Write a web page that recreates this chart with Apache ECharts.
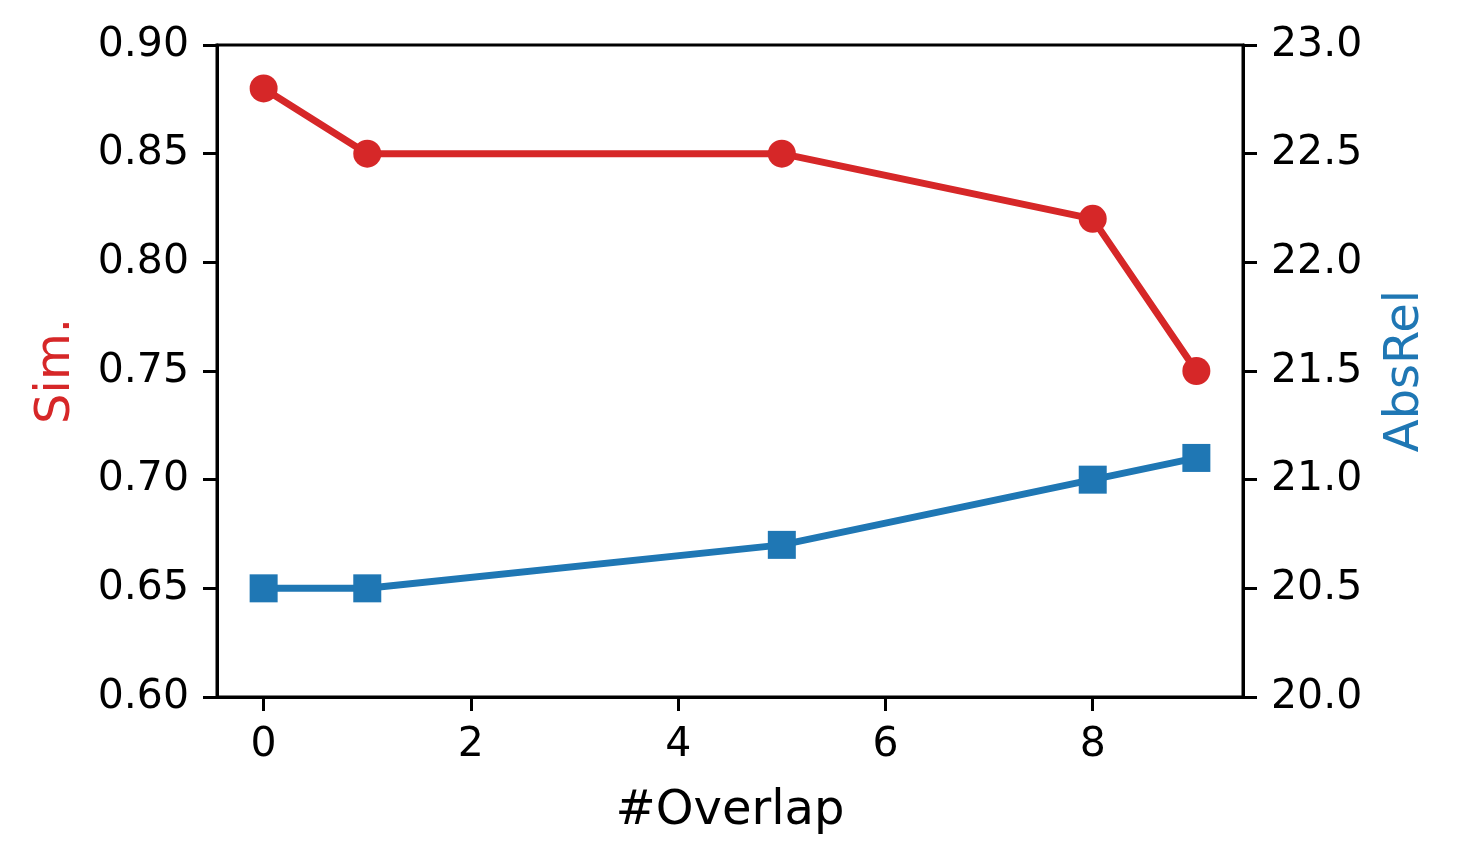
<!DOCTYPE html>
<html><head><meta charset="utf-8">
<script src="https://cdn.jsdelivr.net/npm/echarts@6/dist/echarts.min.js"></script>
<style>html,body{margin:0;padding:0;background:#fff}#c{width:1459px;height:863px}</style>
</head><body><div id="c"></div>
<script>
const overlap = [0, 1, 5, 8, 9];
const sim = [0.88, 0.85, 0.85, 0.82, 0.75];
const absRel = [20.5, 20.5, 20.7, 21.0, 21.1];
const xTicks = [0, 2, 4, 6, 8];
const FONT = 'DejaVu Sans';
const RED = '#d62728', BLUE = '#1f77b4';
const chart = echarts.init(document.getElementById('c'), null, {renderer: 'canvas'});
const axisLine = {show: true, onZero: false, lineStyle: {color: '#000', width: 3}};
const axisTick = {show: true, length: 14, lineStyle: {color: '#000', width: 3}};
chart.setOption({
  animation: false,
  grid: {left: 217, right: 216, top: 45, bottom: 166, containLabel: false,
         show: true, borderColor: '#000', borderWidth: 3, backgroundColor: 'transparent'},
  xAxis: {
    type: 'value', min: -0.45, max: 9.45,
    name: '#Overlap', nameLocation: 'middle', nameGap: 91,
    nameTextStyle: {fontFamily: FONT, fontSize: 48, color: '#000'},
    axisLine: axisLine,
    axisTick: Object.assign({}, axisTick, {customValues: xTicks}),
    axisLabel: {customValues: xTicks, fontFamily: FONT, fontSize: 41, color: '#000', margin: 28},
    splitLine: {show: false}
  },
  yAxis: [{
    type: 'value', min: 0.6, max: 0.9, interval: 0.05, position: 'left',
    name: 'Sim.', nameLocation: 'middle', nameGap: 136, nameRotate: 90,
    nameTextStyle: {fontFamily: FONT, fontSize: 48, color: RED},
    axisLine: axisLine, axisTick: axisTick,
    axisLabel: {fontFamily: FONT, fontSize: 41, color: '#000', margin: 28, formatter: v => v.toFixed(2)},
    splitLine: {show: false}
  }, {
    type: 'value', min: 20, max: 23, interval: 0.5, position: 'right',
    name: 'AbsRel', nameLocation: 'middle', nameGap: 139, nameRotate: 90,
    nameTextStyle: {fontFamily: FONT, fontSize: 48, color: BLUE},
    axisLine: axisLine, axisTick: axisTick,
    axisLabel: {fontFamily: FONT, fontSize: 41, color: '#000', margin: 28, formatter: v => v.toFixed(1)},
    splitLine: {show: false}
  }],
  series: [{
    type: 'line', yAxisIndex: 0,
    data: overlap.map((x, i) => [x, sim[i]]),
    symbol: 'circle', symbolSize: 28, showAllSymbol: true,
    lineStyle: {color: RED, width: 7}, itemStyle: {color: RED}
  }, {
    type: 'line', yAxisIndex: 1,
    data: overlap.map((x, i) => [x, absRel[i]]),
    symbol: 'rect', symbolSize: 28, showAllSymbol: true,
    lineStyle: {color: BLUE, width: 7}, itemStyle: {color: BLUE}
  }]
});
</script>
</body></html>
